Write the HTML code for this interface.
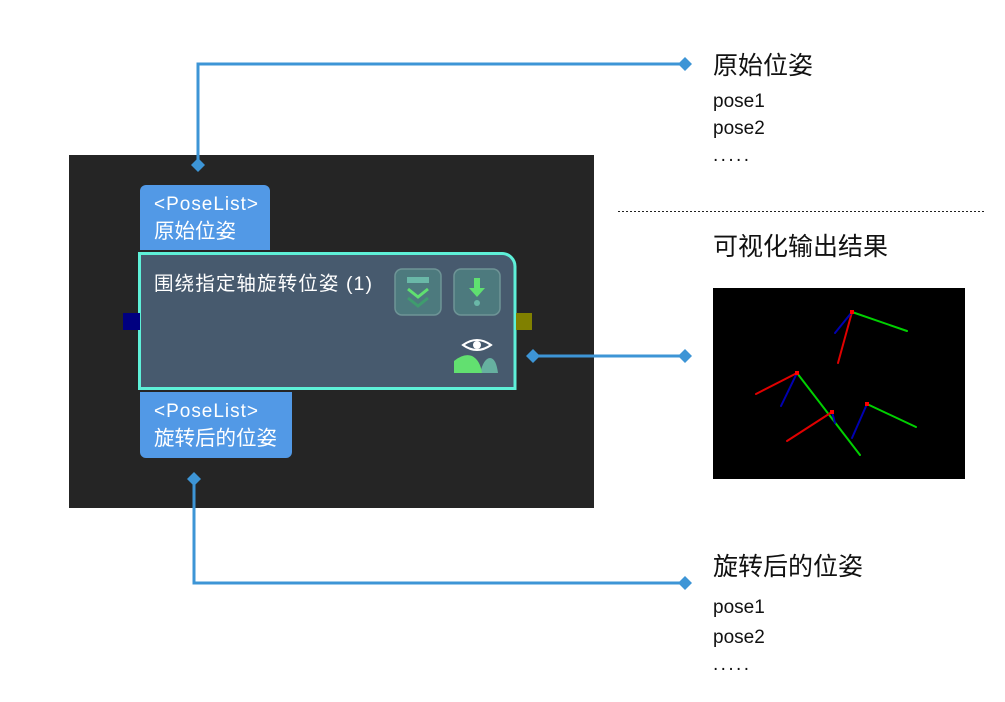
<!DOCTYPE html>
<html><head><meta charset="utf-8"><style>
body{margin:0;width:1005px;height:702px;background:#fff;overflow:hidden}
svg{display:block}
</style></head><body>
<svg width="1005" height="702" xmlns="http://www.w3.org/2000/svg" font-family="'Liberation Sans','Noto Sans CJK SC',sans-serif">
<rect x="69" y="155" width="525" height="353" fill="#252525"/>
<g stroke="#3d95d6" stroke-width="3" fill="none">
<polyline points="198,165 198,64 685,64"/>
<polyline points="194,479 194,583 685,583"/>
<line x1="533" y1="356" x2="685" y2="356"/>
</g>
<g fill="#3d95d6">
<path d="M198,158 l7,7 l-7,7 l-7,-7z"/>
<path d="M685,57 l7,7 l-7,7 l-7,-7z"/>
<path d="M194,472 l7,7 l-7,7 l-7,-7z"/>
<path d="M685,576 l7,7 l-7,7 l-7,-7z"/>
<path d="M533,349 l7,7 l-7,7 l-7,-7z"/>
<path d="M685,349 l7,7 l-7,7 l-7,-7z"/>
</g>
<line x1="618" y1="211.5" x2="984" y2="211.5" stroke="#222" stroke-width="1" stroke-dasharray="2,2"/>
<path d="M140,250 V191 a6,6 0 0 1 6,-6 H264 a6,6 0 0 1 6,6 V250z" fill="#5299e6"/>
<text x="154" y="210" font-size="19" fill="#fff" textLength="104">&lt;PoseList&gt;</text>
<text x="154" y="238" font-size="20.5" fill="#fff">原始位姿</text>
<path d="M140,392 H292 V452 a6,6 0 0 1 -6,6 H146 a6,6 0 0 1 -6,-6z" fill="#5299e6"/>
<text x="154" y="417" font-size="19" fill="#fff" textLength="104">&lt;PoseList&gt;</text>
<text x="154" y="445" font-size="20.5" fill="#fff">旋转后的位姿</text>
<path d="M139.5,253.5 H502 a13,13 0 0 1 13,13 V388.5 H139.5z" fill="#475a6e" stroke="#5ef0d8" stroke-width="3"/>
<rect x="123" y="313" width="17" height="17" fill="#000080"/>
<rect x="516" y="313" width="16" height="17" fill="#808000"/>
<text x="154" y="290" font-size="19.5" fill="#fff" textLength="218">围绕指定轴旋转位姿 (1)</text>
<rect x="395" y="269" width="46" height="46" rx="7" fill="#4d7a7e" stroke="#6e9496" stroke-width="1.5"/>
<rect x="407" y="277" width="22" height="6" fill="#6ab8a8"/>
<polyline points="408,289 418,297 428,289" stroke="#5fe070" stroke-width="3" fill="none"/>
<polyline points="408,298 418,306 428,298" stroke="#3f9c6e" stroke-width="3" fill="none"/>
<rect x="454" y="269" width="46" height="46" rx="7" fill="#4d7a7e" stroke="#6e9496" stroke-width="1.5"/>
<path d="M474,278 h6 v10 h5 l-8,9 l-8,-9 h5z" fill="#5fe070"/>
<circle cx="477" cy="303" r="3" fill="#6ab8a8"/>
<path d="M463,345 q14,-10 28,0 q-14,10 -28,0z" fill="none" stroke="#fff" stroke-width="2"/>
<circle cx="477" cy="345" r="4" fill="#fff"/>
<path d="M480,373 q4,-15 10,-15 q6,0 8,15z" fill="#66b0a0"/>
<path d="M454,373 v-12 q10,-8 18,-5 q8,4 10,17z" fill="#62e070"/>
<text x="713" y="74" font-size="25" fill="#111">原始位姿</text>
<text x="713" y="107" font-size="19" fill="#111">pose1</text>
<text x="713" y="134" font-size="19" fill="#111">pose2</text>
<text x="713" y="161" font-size="19" fill="#111" textLength="36">.....</text>
<text x="713" y="255" font-size="25" fill="#111">可视化输出结果</text>
<text x="713" y="575" font-size="25" fill="#111">旋转后的位姿</text>
<text x="713" y="613" font-size="19" fill="#111">pose1</text>
<text x="713" y="643" font-size="19" fill="#111">pose2</text>
<text x="713" y="670" font-size="19" fill="#111" textLength="36">.....</text>
<rect x="713" y="288" width="252" height="191" fill="#000"/>
<g stroke-width="2" stroke-linecap="round">
<line x1="852" y1="312" x2="907" y2="331" stroke="#00d000"/>
<line x1="852" y1="312" x2="838" y2="363" stroke="#e00000"/>
<line x1="852" y1="312" x2="835" y2="333" stroke="#0000b0"/>
<line x1="797" y1="373" x2="756" y2="394" stroke="#e00000"/>
<line x1="797" y1="373" x2="781" y2="406" stroke="#0000b0"/>
<line x1="797" y1="373" x2="860" y2="455" stroke="#00d000"/>
<line x1="832" y1="412" x2="787" y2="441" stroke="#e00000"/>
<line x1="832" y1="412" x2="835" y2="423" stroke="#0000b0"/>
<line x1="867" y1="404" x2="916" y2="427" stroke="#00d000"/>
<line x1="867" y1="404" x2="852" y2="438" stroke="#0000b0"/>
</g>
<g fill="#f00"><rect x="850" y="310" width="4" height="4"/><rect x="795" y="371" width="4" height="4"/><rect x="830" y="410" width="4" height="4"/><rect x="865" y="402" width="4" height="4"/></g>
</svg>
</body></html>
